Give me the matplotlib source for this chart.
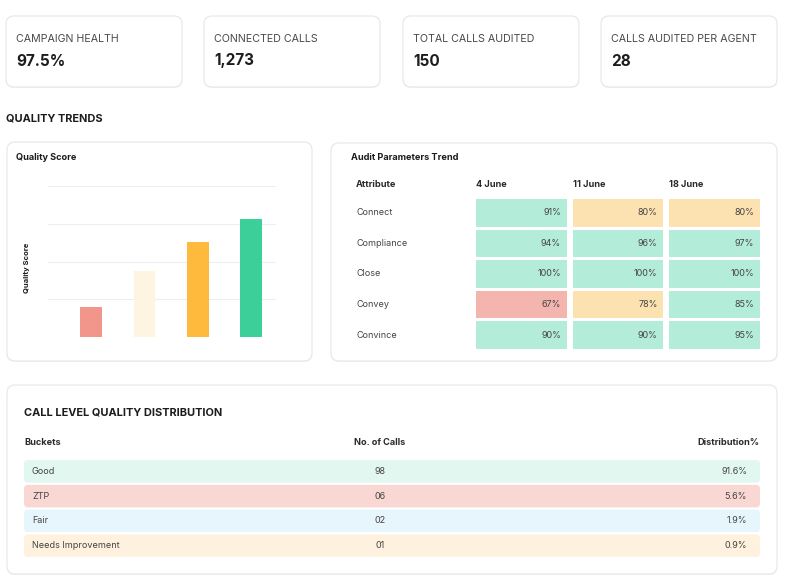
import matplotlib
matplotlib.use("Agg")
import matplotlib.pyplot as plt
from matplotlib.patches import FancyBboxPatch, Rectangle

plt.rcParams['font.family'] = ['Inter', 'DejaVu Sans']

W, H = 785, 582

# --- données ---
kpi_labels = ["CAMPAIGN HEALTH", "CONNECTED CALLS", "TOTAL CALLS AUDITED", "CALLS AUDITED PER AGENT"]
kpi_values = ["97.5%", "1,273", "150", "28"]

score_values = [20, 44, 63, 78]
score_colors = ["#F2958A", "#FEF4E2", "#FDBA3D", "#3DCF9A"]

attributes = ["Connect", "Compliance", "Close", "Convey", "Convince"]
weeks = ["4 June", "11 June", "18 June"]
audit_values = [
    [91, 80, 80],
    [94, 96, 97],
    [100, 100, 100],
    [67, 78, 85],
    [90, 90, 95],
]

buckets = ["Good", "ZTP", "Fair", "Needs Improvement"]
nb_calls = ["98", "06", "02", "01"]
distribution = ["91.6%", "5.6%", "1.9%", "0.9%"]
bucket_colors = ["#E2F7EF", "#F9D8D4", "#E6F6FC", "#FEF2DE"]


def px_axes(fig, x, y, w, h):
    return fig.add_axes([x / W, 1 - (y + h) / H, w / W, h / H])


def cell_color(v):
    if v >= 85:
        return "#B4ECDA"
    elif v >= 70:
        return "#FDE2B1"
    return "#F4B5AF"


fig = plt.figure(figsize=(W / 100, H / 100), dpi=100)
fig.patch.set_facecolor("white")

# fond en coordonnées pixels
bg = px_axes(fig, 0, 0, W, H)
bg.set_xlim(0, W)
bg.set_ylim(H, 0)
bg.axis("off")


def carte(x0, y0, x1, y1):
    # petite ombre puis la carte
    bg.add_patch(FancyBboxPatch((x0, y0 + 1), x1 - x0, y1 - y0,
                                boxstyle="round,pad=0,rounding_size=8",
                                fc="#F4F4F4", ec="none"))
    bg.add_patch(FancyBboxPatch((x0, y0), x1 - x0, y1 - y0,
                                boxstyle="round,pad=0,rounding_size=8",
                                fc="white", ec="#E6E6E6", lw=0.8))


# cartes KPI
kpi_x = [6, 204, 403, 601]
for x, lab, val in zip(kpi_x, kpi_labels, kpi_values):
    carte(x, 16, x + 176, 87)
    bg.text(x + 10, 39, lab, fontsize=7.7, color="#4A4A4A", va="center", ha="left")
    bg.text(x + 10, 61, val, fontsize=11, fontweight="bold", color="#1C1C1C", va="center", ha="left")

bg.text(6, 119, "QUALITY TRENDS", fontsize=7.9, fontweight="bold", color="#1C1C1C", va="center")

# carte quality score
carte(7, 142, 312, 361)
bg.text(16, 158, "Quality Score", fontsize=6.6, fontweight="bold", color="#1C1C1C", va="center")
bg.text(27, 268, "Quality Score", fontsize=5.5, fontweight="bold", color="#1C1C1C",
        va="center", ha="center", rotation=90)

ax_bar = px_axes(fig, 48, 186, 228, 151)
ax_bar.set_facecolor("none")
ax_bar.bar(range(len(score_values)), score_values, width=0.41, color=score_colors, zorder=3)
ax_bar.set_xlim(-0.81, 3.47)
ax_bar.set_ylim(0, 100)
ax_bar.set_yticks([0, 25, 50, 75, 100])
ax_bar.grid(axis="y", color="#EEEEEE", lw=0.8)
ax_bar.tick_params(length=0, labelleft=False, labelbottom=False)
for s in ax_bar.spines.values():
    s.set_visible(False)

# carte audit parameters
carte(331, 143, 777, 361)
bg.text(351, 158, "Audit Parameters Trend", fontsize=6.6, fontweight="bold", color="#1C1C1C", va="center")

ax_hm = px_axes(fig, 473.25, 197.75, 289.5, 152.5)
ax_hm.set_xlim(0, 3)
ax_hm.set_ylim(5, 0)
ax_hm.axis("off")
cw, ch = 0.943, 0.918
for i, attr in enumerate(attributes):
    ax_hm.text(-1.215, i + 0.5, attr, fontsize=6.5, color="#444444", va="center", ha="left")
    for j, v in enumerate(audit_values[i]):
        ax_hm.add_patch(Rectangle((j + (1 - cw) / 2, i + (1 - ch) / 2), cw, ch,
                                  fc=cell_color(v), ec="none"))
        ax_hm.text(j + 0.91, i + 0.5, f"{v}%", fontsize=6.5, color="#444444", va="center", ha="right")
ax_hm.text(-1.215, -0.42, "Attribute", fontsize=6.6, fontweight="bold", color="#2A2A2A", va="center", ha="left")
for j, w in enumerate(weeks):
    ax_hm.text(j + 0.03, -0.42, w, fontsize=6.6, fontweight="bold", color="#2A2A2A", va="center", ha="left")

# carte distribution
carte(7, 385, 777, 574)
bg.text(24, 412, "CALL LEVEL QUALITY DISTRIBUTION", fontsize=7.9, fontweight="bold", color="#1C1C1C", va="center")

tw = 736
ax_tb = px_axes(fig, 24, 459, tw, 99)
ax_tb.set_xlim(0, tw)
ax_tb.set_ylim(4, 0)
ax_tb.axis("off")
rh = 22.5 / 24.75
for i, (b, n, d, c) in enumerate(zip(buckets, nb_calls, distribution, bucket_colors)):
    ax_tb.add_patch(FancyBboxPatch((0, i + (1 - rh) / 2), tw, rh,
                                   boxstyle="round,pad=0,rounding_size=4",
                                   mutation_aspect=1 / 24.75, fc=c, ec="none"))
    ax_tb.text(8, i + 0.5, b, fontsize=6.5, color="#444444", va="center", ha="left")
    ax_tb.text(356, i + 0.5, n, fontsize=6.5, color="#444444", va="center", ha="center")
    ax_tb.text(723, i + 0.5, d, fontsize=6.5, color="#444444", va="center", ha="right")
ax_tb.text(0, -0.65, "Buckets", fontsize=6.6, fontweight="bold", color="#2A2A2A", va="center", ha="left")
ax_tb.text(356, -0.65, "No. of Calls", fontsize=6.6, fontweight="bold", color="#2A2A2A", va="center", ha="center")
ax_tb.text(tw, -0.65, "Distribution%", fontsize=6.6, fontweight="bold", color="#2A2A2A", va="center", ha="right")

fig.savefig("out.png", dpi=100, facecolor="white")
